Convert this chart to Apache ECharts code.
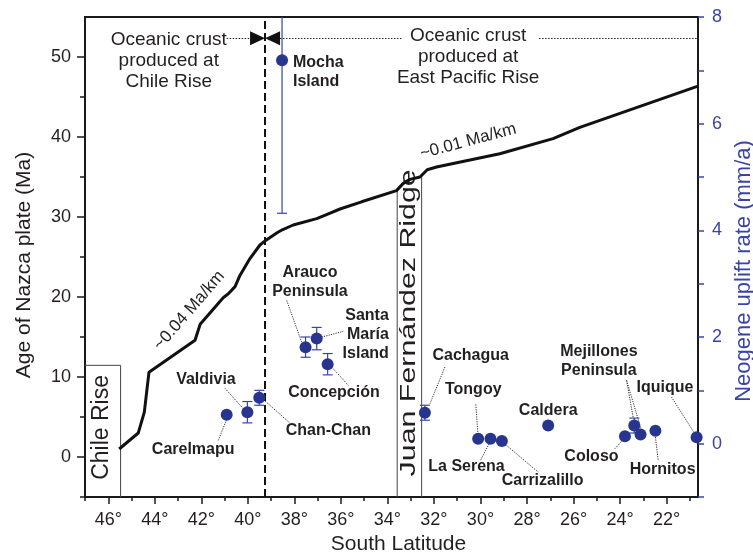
<!DOCTYPE html>
<html>
<head>
<meta charset="utf-8">
<script src="https://cdn.jsdelivr.net/npm/echarts@6/dist/echarts.min.js"></script>
<style>
  html, body { margin: 0; padding: 0; background: #fff; }
  #chart { width: 753px; height: 558px; }
</style>
</head>
<body>
<div id="chart"></div>
<script>
// age of the Nazca plate at the trench (black curve)
const ageLat = [45.53, 44.71, 44.45, 44.25, 42.27, 42.05, 41.06, 40.84, 40.55, 40.34, 39.91, 39.48, 39.22, 38.76, 38.52, 38.05, 37.04, 36.54, 36.04, 35.11, 33.61, 33.32, 33.03, 32.6, 32.29, 31.89, 29.17, 26.88, 25.73, 20.62];
const ageMa = [1.0, 3.0, 5.6, 10.6, 14.6, 16.6, 19.9, 20.4, 21.3, 22.7, 24.8, 26.5, 27.1, 28.0, 28.4, 29.0, 29.8, 30.4, 31.0, 31.9, 33.3, 34.2, 34.7, 35.0, 35.9, 36.25, 37.9, 39.8, 41.2, 46.4];

// neogene uplift rate per site (blue dots)
const siteNames = ['Mocha Island', 'Carelmapu', 'Valdivia', 'Chan-Chan', 'Arauco Peninsula', 'Santa María Island', 'Concepción', 'Cachagua', 'Tongoy', 'La Serena', 'Carrizalillo', 'Caldera', 'Coloso', 'Mejillones Peninsula', 'Mejillones Peninsula', 'Hornitos', 'Iquique'];
const siteLat = [38.53, 40.91, 40.02, 39.51, 37.52, 37.04, 36.57, 32.39, 30.10, 29.57, 29.08, 27.09, 23.79, 23.39, 23.12, 22.48, 20.71];
const siteRate = [7.19, 0.54, 0.59, 0.86, 1.81, 1.97, 1.49, 0.58, 0.09, 0.09, 0.05, 0.34, 0.14, 0.34, 0.17, 0.24, 0.12];
const siteErr = [2.87, 0, 0.2, 0.14, 0.19, 0.21, 0.2, 0.14, 0, 0, 0, 0, 0, 0.14, 0, 0, 0];

// site labels and their dotted leaders (lat, rate)
const labelText = ['Mocha\nIsland', 'Carelmapu', 'Valdivia', 'Chan-Chan', 'Arauco\nPeninsula', 'Santa\nMaría\nIsland', 'Concepción', 'Cachagua', 'Tongoy', 'La Serena', 'Carrizalillo', 'Caldera', 'Coloso', 'Mejillones\nPeninsula', 'Hornitos', 'Iquique'];
const labelLat = [38.06, 42.35, 41.80, 36.54, 37.33, 33.94, 36.30, 30.42, 30.31, 30.60, 27.33, 27.09, 25.23, 24.91, 22.17, 22.07];
const labelRate = [6.97, -0.107, 1.206, 0.236, 3.03, 2.044, 0.949, 1.656, 1.013, -0.426, -0.701, 0.624, -0.238, 1.545, -0.488, 1.05];
const labelAlign = ['left', 'center', 'center', 'center', 'center', 'right', 'center', 'center', 'center', 'center', 'center', 'center', 'center', 'center', 'center', 'center'];
const leaderFrom = [[40.91, 0.456], [40.98, 1.037], [39.26, 0.799], [36.33, 1.406], [38.33, 2.687], [36.83, 1.999], [31.53, 1.436], [30.20, 0.737], [29.63, 0], [28.88, -0.032], [24.22, -0.094], [23.72, 1.187], [23.72, 1.187], [22.48, 0.124], [21.79, 0.874]];
const leaderTo = [[41.27, 0.062], [40.20, 0.656], [38.19, 0.386], [35.68, 1.093], [37.69, 1.905], [35.90, 2.106], [32.17, 0.750], [30.11, 0.174], [30.00, -0.313], [27.52, -0.533], [23.87, 0.075], [23.44, 0.499], [23.08, 0.249], [22.36, -0.313], [20.79, 0.187]];

// axis ticks
const latMajor = [46, 44, 42, 40, 38, 36, 34, 32, 30, 28, 26, 24, 22];
const latMinor = [47, 45, 43, 41, 39, 37, 35, 33, 31, 29, 27, 25, 23, 21];
const ageMajor = [0, 10, 20, 30, 40, 50];
const ageMinor = [-5, 5, 15, 25, 35, 45];
const rateMajor = [0, 2, 4, 6, 8];
const rateTicks = [-1, 0, 1, 2, 3, 4, 5, 6, 7, 8];

// features
const chileRiseLat = 39.26;   // dashed boundary
const chileRiseBox = [[47, 11.46], [45.47, 11.46], [45.47, -5]];
const jfrLeft = [[33.58, 33.3], [33.58, -5]];
const jfrRight = [[32.53, 35.1], [32.53, -5]];

const BLUE = '#27358f';
const BLUE_LINE = '#3a44a4';
const INK = '#231f20';
const FONT = '"Liberation Sans", Arial, Helvetica, sans-serif';

const chart = echarts.init(document.getElementById('chart'));

const plainText = (text, lat, age, size, rotate, extra) => ({
  value: [lat, age],
  label: Object.assign({
    show: true, position: 'inside', formatter: text, rotate: rotate || 0,
    fontSize: size, color: INK, fontFamily: FONT, align: 'center', verticalAlign: 'middle'
  }, extra || {})
});

const option = {
  animation: false,
  backgroundColor: '#fff',
  grid: {
    left: 85, right: 55, top: 17, bottom: 61, containLabel: false, outerBoundsMode: 'none',
    show: true, borderColor: '#1a1a1a', borderWidth: 2
  },
  xAxis: [
    {
      type: 'value', inverse: true, min: 20.65, max: 47,
      name: 'South Latitude', nameLocation: 'middle', nameGap: 37,
      nameTextStyle: { fontSize: 21, color: INK, fontFamily: FONT, padding: [0, 0, 0, 14] },
      axisLine: { show: true, onZero: false, lineStyle: { color: '#1a1a1a', width: 2 } },
      axisTick: { show: true, customValues: latMajor, length: 7, lineStyle: { color: '#1a1a1a', width: 1.5 } },
      axisLabel: { customValues: latMajor, formatter: v => v + '°', fontSize: 18, color: INK, fontFamily: FONT, margin: 14 },
      splitLine: { show: false }
    },
    {
      type: 'value', inverse: true, min: 20.65, max: 47, position: 'bottom',
      axisLine: { show: false, onZero: false },
      axisTick: { show: true, customValues: latMinor, length: 4, lineStyle: { color: '#1a1a1a', width: 1.5 } },
      axisLabel: { show: false }, splitLine: { show: false }
    }
  ],
  yAxis: [
    {
      type: 'value', min: -5, max: 55, position: 'left',
      name: 'Age of Nazca plate (Ma)', nameLocation: 'middle', nameGap: 50,
      nameTextStyle: { fontSize: 21, color: INK, fontFamily: FONT, padding: [0, 16, 0, 0] },
      axisLine: { show: true, onZero: false, lineStyle: { color: '#1a1a1a', width: 2 } },
      axisTick: { show: true, customValues: ageMajor, length: 8, lineStyle: { color: '#1a1a1a', width: 1.5 } },
      axisLabel: { customValues: ageMajor, fontSize: 18, color: INK, fontFamily: FONT, margin: 14 },
      splitLine: { show: false }
    },
    {
      type: 'value', min: -1, max: 8, position: 'right',
      name: 'Neogene uplift rate (mm/a)', nameLocation: 'middle', nameGap: 33,
      nameTextStyle: { fontSize: 22, color: BLUE_LINE, fontFamily: FONT, padding: [0, 28, 0, 0] },
      axisLine: { show: true, onZero: false, lineStyle: { color: '#1a1a1a', width: 2 } },
      axisTick: { show: true, customValues: rateTicks, length: 6, lineStyle: { color: BLUE_LINE, width: 1.5 } },
      axisLabel: { customValues: rateMajor, fontSize: 18, color: BLUE_LINE, fontFamily: FONT, margin: 14 },
      splitLine: { show: false }
    },
    {
      type: 'value', min: -5, max: 55, position: 'left',
      axisLine: { show: false, onZero: false },
      axisTick: { show: true, customValues: ageMinor, length: 5, lineStyle: { color: '#1a1a1a', width: 1.5 } },
      axisLabel: { show: false }, splitLine: { show: false }
    }
  ],
  series: [
    // Chile Rise box, Juan Fernández Ridge box, dashed boundary
    {
      type: 'lines', coordinateSystem: 'cartesian2d', xAxisIndex: 0, yAxisIndex: 0, silent: true,
      polyline: true,
      lineStyle: { color: '#444', width: 1, opacity: 1 },
      data: [{ coords: chileRiseBox }, { coords: jfrLeft }, { coords: jfrRight }]
    },
    {
      type: 'lines', coordinateSystem: 'cartesian2d', xAxisIndex: 0, yAxisIndex: 0, silent: true,
      lineStyle: { color: '#111', width: 2, type: [8, 4], opacity: 1 },
      data: [{ coords: [[chileRiseLat, -5], [chileRiseLat, 55]] }]
    },
    // dotted arrows at the top
    {
      type: 'lines', coordinateSystem: 'cartesian2d', xAxisIndex: 0, yAxisIndex: 0, silent: true,
      lineStyle: { color: '#222', width: 1.2, type: [1.5, 1.5], opacity: 1 },
      data: [
        { coords: [[40.91, 52.34], [39.91, 52.34]] },
        { coords: [[38.62, 52.34], [33.33, 52.34]] },
        { coords: [[27.48, 52.34], [20.71, 52.34]] }
      ]
    },
    {
      type: 'custom', xAxisIndex: 0, yAxisIndex: 0, silent: true,
      data: [[chileRiseLat, 52.34, 1], [chileRiseLat, 52.34, -1]],
      renderItem: (params, api) => {
        const p = api.coord([api.value(0), api.value(1)]);
        const d = api.value(2);
        return {
          type: 'polygon',
          shape: { points: [[p[0], p[1]], [p[0] - d * 15, p[1] - 7], [p[0] - d * 15, p[1] + 7]] },
          style: { fill: '#111' }
        };
      }
    },
    // age curve
    {
      type: 'line', xAxisIndex: 0, yAxisIndex: 0, silent: true, showSymbol: false,
      lineStyle: { color: '#111', width: 3 },
      data: ageLat.map((x, i) => [x, ageMa[i]])
    },
    // leader lines
    {
      type: 'lines', coordinateSystem: 'cartesian2d', xAxisIndex: 0, yAxisIndex: 1, silent: true,
      lineStyle: { color: '#333', width: 1, type: [1.2, 1.2], opacity: 1 },
      data: leaderFrom.map((a, i) => ({ coords: [a, leaderTo[i]] }))
    },
    // error bars
    {
      type: 'custom', xAxisIndex: 0, yAxisIndex: 1, silent: true,
      data: siteLat.map((x, i) => [x, siteRate[i], siteErr[i]]),
      renderItem: (params, api) => {
        const x = api.value(0), y = api.value(1), e = api.value(2);
        if (!e) return null;
        const hi = Math.min(y + e, 8);
        const lo = api.coord([x, y - e]);
        const up = api.coord([x, hi]);
        const st = { stroke: BLUE_LINE, lineWidth: 1.2 };
        const kids = [
          { type: 'line', shape: { x1: lo[0], y1: lo[1], x2: up[0], y2: up[1] }, style: st },
          { type: 'line', shape: { x1: lo[0] - 5, y1: lo[1], x2: lo[0] + 5, y2: lo[1] }, style: st }
        ];
        if (y + e <= 8) kids.push({ type: 'line', shape: { x1: up[0] - 5, y1: up[1], x2: up[0] + 5, y2: up[1] }, style: st });
        return { type: 'group', children: kids };
      }
    },
    // sites
    {
      type: 'scatter', xAxisIndex: 0, yAxisIndex: 1, silent: true,
      symbol: 'circle', symbolSize: 12,
      itemStyle: { color: BLUE, opacity: 1 },
      data: siteLat.map((x, i) => ({ name: siteNames[i], value: [x, siteRate[i]] }))
    },
    // site labels
    {
      type: 'scatter', xAxisIndex: 0, yAxisIndex: 1, silent: true, symbolSize: 0, clip: false,
      itemStyle: { opacity: 1 },
      label: {
        show: true, position: 'inside', formatter: p => p.data.text,
        fontSize: 16, fontWeight: 'bold', color: INK, fontFamily: FONT, lineHeight: 19, verticalAlign: 'middle'
      },
      data: labelText.map((t, i) => ({
        value: [labelLat[i], labelRate[i]], text: t,
        label: { align: labelAlign[i] }
      }))
    },
    // annotation texts on the age axis
    {
      type: 'scatter', xAxisIndex: 0, yAxisIndex: 0, silent: true, symbolSize: 0, clip: false,
      itemStyle: { opacity: 1 },
      data: [
        plainText('Oceanic crust\nproduced at\nChile Rise', 43.40, 49.59, 19, 0, { lineHeight: 21 }),
        plainText('Oceanic crust\nproduced at\nEast Pacific Rise', 30.53, 50.09, 19, 0, { lineHeight: 21 }),
        plainText('~0.04 Ma/km', 42.52, 18.3, 17, 49),
        plainText('~0.01 Ma/km', 30.53, 39.46, 17, 15),
        plainText('Chile Rise', 46.28, 3.7, 23, 90)
      ]
    },
    // ridge name, stretched along its length like the original lettering
    {
      type: 'custom', xAxisIndex: 0, yAxisIndex: 0, silent: true,
      data: [[33.07, 16.77]],
      renderItem: (params, api) => {
        const p = api.coord([api.value(0), api.value(1)]);
        return {
          type: 'text', x: p[0], y: p[1], rotation: Math.PI / 2, scaleX: 1.38,
          style: {
            text: 'Juan Fernández Ridge', fontSize: 22, fontFamily: FONT, fill: INK,
            align: 'center', verticalAlign: 'middle'
          }
        };
      }
    }
  ]
};

chart.setOption(option);
</script>
</body>
</html>
